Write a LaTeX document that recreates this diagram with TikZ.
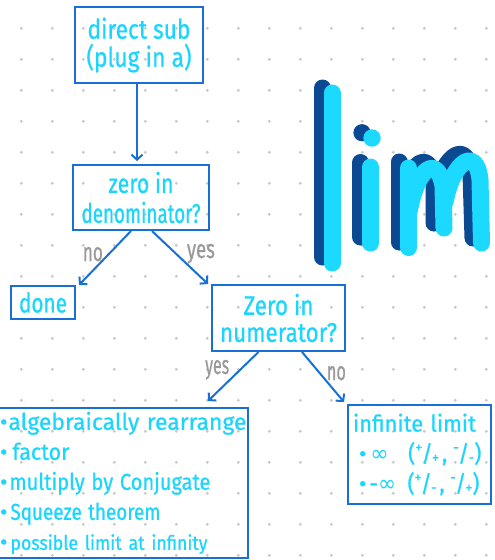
\documentclass[tikz,border=0pt]{standalone}
\usepackage{fontspec}
\setmainfont[FakeBold=0.7]{Fira Sans}
\newfontfamily\dvfont{DejaVu Sans}
\usepackage{graphicx}
\usetikzlibrary{arrows.meta}
\definecolor{boxblue}{RGB}{24,112,214}
\definecolor{textcyan}{RGB}{27,214,252}
\definecolor{limdark}{RGB}{11,74,146}
\definecolor{limcyan}{RGB}{27,217,255}
\definecolor{labgray}{RGB}{153,153,153}
\definecolor{dotgray}{RGB}{200,200,200}
\newcommand\hw[2]{\resizebox{#1pt}{\height}{#2}}
\newcommand\sfr[2]{\raisebox{.4em}{\fontsize{15}{15}\selectfont#1}\kern-1pt/\kern-1pt\raisebox{-.05em}{\fontsize{15}{15}\selectfont#2}}
\tikzset{
  flowbox/.style={draw=boxblue, line width=2pt, inner sep=0pt, text=textcyan, align=center, font=\fontsize{27}{28}\selectfont},
  lab/.style={text=labgray, font=\fontsize{26}{26}\selectfont, inner sep=0pt, anchor=base west},
  arr/.style={draw=boxblue, line width=2pt, -{Straight Barb[length=5pt,width=11pt]}},
  limstroke/.style={line width=17pt, line cap=round, line join=round},
}
\begin{document}
\begin{tikzpicture}[x=1pt,y=-1pt]
\fill[white] (0,0) rectangle (495,560);
\useasboundingbox (0,0) rectangle (495,560);
% dot grid
\foreach \i in {0,...,15} {
  \foreach \j in {0,...,17} {
    \fill[dotgray] (21.3+31*\i, 28.3+31*\j) circle (1.6);
  }
}
% lim - shadow
\draw[limstroke, limdark] (322.5,88) -- (322.5,257);
\fill[limdark] (362,132.7) circle (8.6);
\draw[limstroke, limdark] (360.5,162.5) -- (360.5,237);
\draw[limstroke, limdark] (399,242) -- (399,162);
\draw[limstroke, limdark] (400,205) .. controls (410,158) and (430,150) .. (434,180) -- (434,223);
\draw[limstroke, limdark] (435,195) .. controls (444,152) and (468,140) .. (471,174) -- (473,238);
% lim - front
\draw[limstroke, limcyan] (332,93) -- (332,263);
\fill[limcyan] (372,138) circle (8.7);
\draw[limstroke, limcyan] (370.5,167) -- (370.5,243);
\draw[limstroke, limcyan] (408.7,247.5) -- (408.7,168);
\draw[limstroke, limcyan] (409,212) .. controls (418,164) and (438,156) .. (443,186) -- (444,228);
\draw[limstroke, limcyan] (445,202) .. controls (453,160) and (477,146) .. (480,180) -- (481.5,243);
% boxes
\node[flowbox, minimum width=128pt, minimum height=76pt] (b1) at (139,45)
  {\hw{103}{direct sub}\\\hw{105}{(plug in a)}};
\node[flowbox, minimum width=136pt, minimum height=65pt, font=\fontsize{27}{30}\selectfont] (b2) at (141,197.5)
  {\hw{65}{zero in}\\\hw{119}{denominator?}};
\node[flowbox, minimum width=64pt, minimum height=33pt] (done) at (43,302.5)
  {\hw{48}{done}};
\node[flowbox, minimum width=133pt, minimum height=66pt, font=\fontsize{27}{27}\selectfont] (num) at (278.5,318)
  {\hw{70}{Zero in}\\\hw{117}{numerator?}};
\node[flowbox, align=left, text width=251pt, minimum width=251pt, minimum height=150pt, font=\fontsize{23}{30}\selectfont] (big) at (122.5,483)
  {\mbox{\hspace*{3pt}•\hspace{1pt}\hw{238}{algebraically rearrange}}\\
   \mbox{\hspace*{3pt}•\hspace{5pt}\hw{57}{factor}}\\
   \mbox{\hspace*{3pt}•\hspace{2pt}\hw{201}{multiply by Conjugate}}\\
   \mbox{\hspace*{3pt}•\hspace{3pt}\hw{150}{Squeeze theorem}}\\
   \mbox{\hspace*{3pt}•\hspace{3pt}{\fontsize{20}{20}\selectfont\hw{197}{possible limit at infinity}}}};
\node[flowbox, align=left, text width=143pt, minimum width=143pt, minimum height=99pt, font=\fontsize{23}{30}\selectfont] (inf) at (419.5,454.5)
  {\mbox{\hspace*{5pt}\hw{123}{infinite limit}}\\
   \mbox{\hspace*{11pt}•\hspace{4pt}\hw{111}{{\dvfont ∞}\hspace{20pt}(\sfr{+}{+}\hspace{3pt},\hspace{6pt}\sfr{-}{-})}}\\
   \mbox{\hspace*{11pt}•\hspace{3pt}\hw{110}{-{\dvfont ∞}\hspace{12pt}(\sfr{+}{-}\hspace{3pt},\hspace{6pt}\sfr{-}{+})}}};
% connectors
\draw[arr, shorten >=3pt] ([xshift=-2pt]b1.south) -- ([xshift=-2pt]b1.south |- b2.north);
\draw[arr] ([xshift=-10pt]b2.south) -- ([xshift=3pt]done.north east);
\draw[arr] ([xshift=11pt]b2.south) -- ([xshift=-3pt]num.north west);
\draw[arr] ([xshift=-20pt]num.south) -- ([xshift=-41pt,yshift=6pt]big.north east);
\draw[arr] ([xshift=23.5pt]num.south) -- ([xshift=-3pt,yshift=2pt]inf.north west);
% labels
\node[lab] (no1) at (82.7,261) {\hw{20}{no}};
\node[lab] (yes1) at (186.7,258) {\hw{28}{yes}};
\node[lab] (yes2) at (205,374) {\hw{24}{yes}};
\node[lab] (no2) at (326.7,380) {\hw{19}{no}};
\end{tikzpicture}
\end{document}
